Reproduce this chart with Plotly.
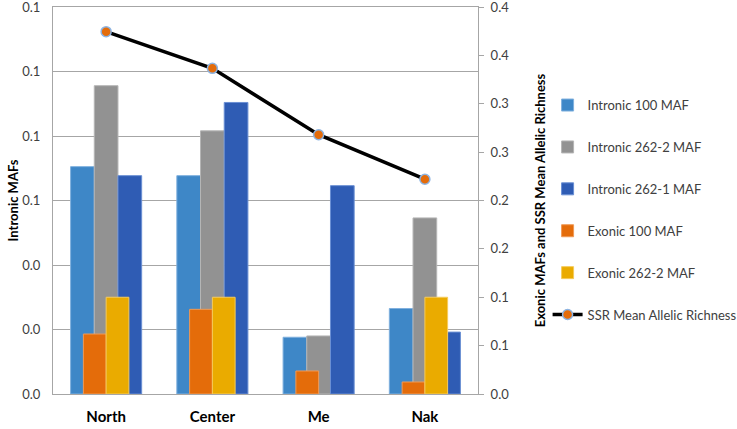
import plotly.graph_objects as go

# Data
regions = ['North', 'Center', 'Me', 'Nak']

intronic_100 = [0.0705, 0.0677, 0.0176, 0.0265]
intronic_262_2 = [0.0956, 0.0816, 0.0180, 0.0546]
intronic_262_1 = [0.0677, 0.0904, 0.0646, 0.0192]
exonic_100 = [0.062, 0.0875, 0.0238, 0.0124]
exonic_262_2 = [0.100, 0.100, None, 0.100]
ssr_richness = [0.3745, 0.3366, 0.268, 0.222]

left_ticks = [0, 0.02, 0.04, 0.06, 0.08, 0.10, 0.12]
left_labels = ['0.0', '0.0', '0.0', '0.1', '0.1', '0.1', '0.1']
right_ticks = [0, 0.05, 0.10, 0.15, 0.20, 0.25, 0.30, 0.35, 0.40]
right_labels = ['0.0', '0.1', '0.1', '0.2', '0.2', '0.3', '0.3', '0.4', '0.4']

FONT = 'Lato, Open Sans, sans-serif'

fig = go.Figure()

# Primary (intronic) bars: three per category
w1 = 0.223
for i, (name, vals, color, edge) in enumerate([
    ('Intronic 100 MAF', intronic_100, '#3E87C7', '#7FB0DE'),
    ('Intronic 262-2 MAF', intronic_262_2, '#929292', '#B5B5B5'),
    ('Intronic 262-1 MAF', intronic_262_1, '#2F5CB4', '#6A8FD4'),
]):
    fig.add_trace(go.Bar(
        x=regions, y=vals, name=name, yaxis='y',
        width=w1, offset=-1.5 * w1 + i * w1,
        marker=dict(color=color, line=dict(color=edge, width=1)),
        legendgroup=name,
    ))

# Secondary (exonic) bars: two per category
w2 = 0.214
for i, (name, vals, color, edge) in enumerate([
    ('Exonic 100 MAF', exonic_100, '#E46C0A', '#F09A55'),
    ('Exonic 262-2 MAF', exonic_262_2, '#EAAB00', '#F5CB5C'),
]):
    fig.add_trace(go.Bar(
        x=regions, y=vals, name=name, yaxis='y2',
        width=w2, offset=-w2 + i * w2,
        marker=dict(color=color, line=dict(color=edge, width=1)),
        legendgroup=name,
    ))

fig.add_trace(go.Scatter(
    x=regions, y=ssr_richness, name='SSR Mean Allelic Richness', yaxis='y2',
    mode='lines+markers',
    line=dict(color='black', width=3.5),
    marker=dict(color='#E46C0A', size=10, line=dict(color='#8DB4E2', width=1.5)),
    legendgroup='ssr',
))

fig.update_layout(
    width=737, height=429,
    margin=dict(l=53, r=259, t=7, b=35),
    paper_bgcolor='white', plot_bgcolor='white',
    font=dict(family=FONT, size=13, color='#404040'),
    barmode='overlay',
    xaxis=dict(
        showgrid=False, showline=True, mirror=True, linecolor='#A6A6A6', linewidth=1,
        ticks='', tickfont=dict(size=15, color='black', family=FONT),
        tickvals=regions, ticktext=['<b>%s</b>' % r for r in regions],
        ticklabelstandoff=9, automargin=False,
        range=[-0.5, 3.5],
    ),
    yaxis=dict(
        range=[0, 0.12], tickvals=left_ticks, ticktext=left_labels,
        showgrid=True, gridcolor='#A6A6A6', gridwidth=1,
        showline=True, linecolor='#A6A6A6', ticks='',
        zeroline=False, ticklabeloverflow='allow', ticklabelstandoff=9,
        automargin=False,
        title=dict(text='<b>Intronic MAFs</b>', standoff=0,
                   font=dict(size=13, color='black', family=FONT)),
    ),
    yaxis2=dict(
        range=[0, 0.4], tickvals=right_ticks, ticktext=right_labels,
        overlaying='y', side='right', showgrid=False,
        showline=True, linecolor='#A6A6A6', ticks='outside',
        ticklen=5, tickcolor='#A6A6A6', zeroline=False, ticklabeloverflow='allow',
        ticklabelstandoff=4, automargin=False,
        title=dict(text='<b>Exonic MAFs and SSR Mean Allelic Richness</b>', standoff=77,
                   font=dict(size=13, color='black', family=FONT)),
    ),
    legend=dict(
        xref='container', yref='container',
        x=0.743, y=0.79, xanchor='left', yanchor='top',
        traceorder='grouped', tracegroupgap=22, maxheight=400, itemwidth=30,
        font=dict(size=13, color='#404040', family=FONT),
        bgcolor='rgba(0,0,0,0)',
    ),
)

fig.write_html('out.html', config={'displayModeBar': False},
               post_script="document.body.style.margin='0px';")
